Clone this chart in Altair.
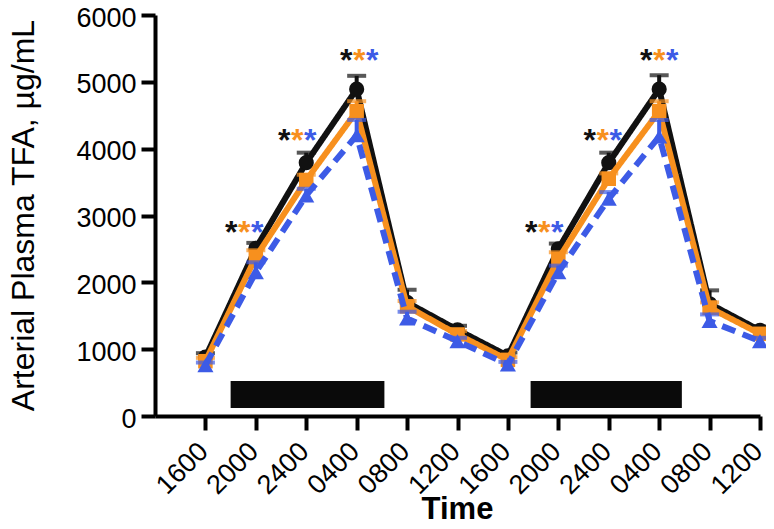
import json
import altair as alt
import pandas as pd

# ---- data ----
time_labels = ["1600", "2000", "2400", "0400", "0800", "1200",
               "1600", "2000", "2400", "0400", "0800", "1200"]
time_idx = list(range(len(time_labels)))

black_vals = [880, 2510, 3790, 4890, 1700, 1290, 900, 2500, 3790, 4890, 1680, 1280]
black_err = [60, 80, 150, 200, 190, 60, 50, 80, 150, 210, 200, 60]
orange_vals = [820, 2380, 3530, 4560, 1640, 1220, 840, 2350, 3550, 4560, 1620, 1230]
orange_err = [50, 100, 80, 150, 80, 50, 40, 100, 80, 150, 80, 50]
blue_vals = [760, 2150, 3300, 4200, 1460, 1120, 770, 2150, 3250, 4180, 1420, 1120]
blue_err = [40, 150, 100, 230, 100, 50, 40, 100, 100, 250, 100, 50]

# dark-period bars (x in time-index units, y in µg/mL)
dark_start = [0.5, 6.45]
dark_end = [3.55, 9.45]
dark_low = [120, 120]
dark_high = [525, 525]

# significance asterisks (position in index units, level in µg/mL)
star_x = [0.77, 1.82, 3.05, 6.72, 7.88, 9.0]
star_y = [2870, 4250, 5440, 2870, 4250, 5450]

BLACK = "#111111"
ORANGE = "#F7901E"
BLUE = "#3D5BE6"

series = [
    ("black", black_vals, black_err, BLACK, "circle", [1, 0], 230),
    ("orange", orange_vals, orange_err, ORANGE, "square", [1, 0], 210),
    ("blue", blue_vals, blue_err, BLUE, "triangle-up", [14, 8], 260),
]

xscale = alt.Scale(domain=[-1, 11], nice=False, zero=False)
yscale = alt.Scale(domain=[0, 6000], nice=False, zero=True)

label_expr = json.dumps(time_labels) + "[datum.value]"

x_axis = alt.Axis(
    values=time_idx, labelExpr=label_expr, labelAngle=-45,
    labelAlign="right", labelBaseline="middle", labelPadding=17,
    labelOffset=-2,
    title="Time", titleFontWeight="bold", titleFontSize=31,
    titleX=302, titleY=102, titleBaseline="alphabetic", titleAlign="center",
)
y_axis = alt.Axis(
    values=[0, 1000, 2000, 3000, 4000, 5000, 6000], format="d",
    title="Arterial Plasma TFA, µg/mL", titleFontWeight="normal",
    titleFontSize=32, titleX=-132, titleY=200, titleAngle=-90,
    titleAlign="center", titleBaseline="middle", labelPadding=5,
    labelOffset=3,
)

layers = []

# bars
bars_df = pd.DataFrame({"x1": dark_start, "x2": dark_end, "y1": dark_low, "y2": dark_high})
layers.append(
    alt.Chart(bars_df).mark_rect(color="#0a0a0a").encode(
        x=alt.X("x1:Q", scale=xscale, axis=x_axis),
        x2="x2:Q",
        y=alt.Y("y1:Q", scale=yscale, axis=y_axis),
        y2="y2:Q",
    )
)

for name, vals, errs, col, shp, dash, size in series:
    df = pd.DataFrame({"t": time_idx, "v": vals, "hi": [v + e for v, e in zip(vals, errs)]})
    base = alt.Chart(df)
    layers.append(
        base.mark_rule(color=col, strokeWidth=4).encode(
            x=alt.X("t:Q", scale=xscale), y=alt.Y("v:Q", scale=yscale), y2="hi:Q"
        )
    )
    layers.append(
        base.mark_tick(color=col, orient="horizontal", size=19, thickness=4).encode(
            x=alt.X("t:Q", scale=xscale), y=alt.Y("hi:Q", scale=yscale)
        )
    )
    layers.append(
        base.mark_line(color=col, strokeWidth=6, strokeDash=dash).encode(
            x=alt.X("t:Q", scale=xscale), y=alt.Y("v:Q", scale=yscale)
        )
    )
    layers.append(
        base.mark_point(color=col, shape=shp, filled=True, opacity=1, size=size).encode(
            x=alt.X("t:Q", scale=xscale), y=alt.Y("v:Q", scale=yscale)
        )
    )

stars_df = pd.DataFrame({"x": star_x, "y": star_y, "s": ["*"] * len(star_x)})
for col, dx in [(BLACK, -13), (ORANGE, 0), (BLUE, 13)]:
    layers.append(
        alt.Chart(stars_df).mark_text(
            color=col, fontSize=32, fontWeight="bold", font="Liberation Sans",
            dx=dx, dy=9, align="center", baseline="middle",
        ).encode(
            x=alt.X("x:Q", scale=xscale), y=alt.Y("y:Q", scale=yscale), text="s:N"
        )
    )

chart = alt.layer(*layers).properties(
    width=605, height=401,
    autosize=alt.AutoSizeParams(type="none"),
    padding={"left": 147, "top": 7, "right": 6, "bottom": 105},
).configure_view(stroke=None).configure_axis(
    grid=False, domainColor="black", domainWidth=4, tickColor="black",
    tickWidth=4, tickSize=14, labelFont="Liberation Sans", labelFontSize=27,
    labelColor="black", titleFont="Liberation Sans", titleColor="black",
    labelOverlap=False,
)

chart.save("out.html", embed_options={"renderer": "svg", "actions": False})
